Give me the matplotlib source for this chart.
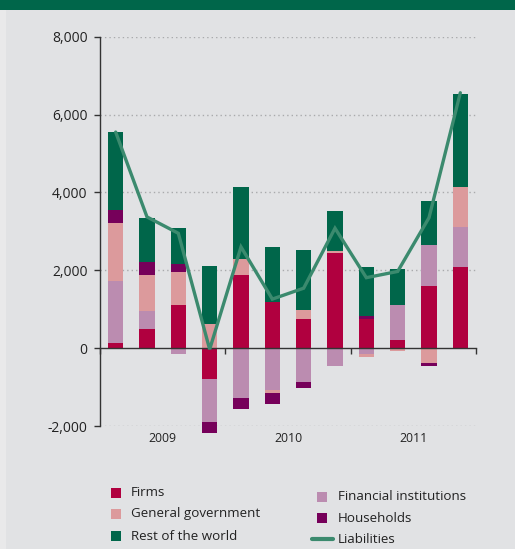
import numpy as np
import matplotlib
matplotlib.use("Agg")
import matplotlib.pyplot as plt
from matplotlib.patches import Rectangle
from matplotlib.lines import Line2D
from matplotlib.ticker import FuncFormatter

plt.rcParams['font.family'] = ['Open Sans', 'DejaVu Sans']

# Quarterly contributions by sector (2009 Q1 - 2011 Q4)
quarters = ['2009 Q1', '2009 Q2', '2009 Q3', '2009 Q4',
            '2010 Q1', '2010 Q2', '2010 Q3', '2010 Q4',
            '2011 Q1', '2011 Q2', '2011 Q3', '2011 Q4']
years = ['2009', '2010', '2011']

firms = [120, 490, 1100, -780, 1880, 1180, 740, 2450, 740, 200, 1590, 2090]
financial = [1600, 460, -160, -1110, -1270, -1070, -860, -450, -160, 900, 1060, 1030]
government = [1500, 930, 850, 610, 410, -80, 230, 50, -80, -80, -370, 1010]
households = [330, 335, 210, -300, -300, -280, -155, 0, 80, 0, -80, 0]
rest_world = [1990, 1140, 930, 1500, 1840, 1420, 1550, 1010, 1270, 930, 1140, 2400]
liabilities = [5550, 3370, 2950, -30, 2600, 1260, 1540, 3080, 1810, 1970, 3350, 6560]

series = [
    ('Firms', firms, '#b0003f'),
    ('Financial institutions', financial, '#bb8cb0'),
    ('General government', government, '#dc9a9c'),
    ('Households', households, '#76005a'),
    ('Rest of the world', rest_world, '#00664a'),
]
line_color = '#3b8a6e'
bg = '#e1e2e4'

W, H = 515, 549
fig = plt.figure(figsize=(W / 100, H / 100), dpi=100, facecolor=bg)

# top banner and left margin strip
fig.add_artist(Rectangle((0, 0), 6 / W, 1, transform=fig.transFigure,
                         facecolor='#e9e9ea', edgecolor='none', zorder=0))
fig.add_artist(Rectangle((0, 1 - 9.5 / H), 1, 9.5 / H, transform=fig.transFigure,
                         facecolor='#00664a', edgecolor='none', zorder=1))

ax_left, ax_right = 100 / W, 476 / W
ax_top, ax_bot = 1 - 36.7 / H, 1 - 426.0 / H
ax = fig.add_axes([ax_left, ax_bot, ax_right - ax_left, ax_top - ax_bot])
ax.set_facecolor(bg)

x = np.arange(len(quarters)) + 0.5
width = 0.48
pos_base = np.zeros(len(quarters))
neg_base = np.zeros(len(quarters))
for name, vals, color in series:
    v = np.array(vals, dtype=float)
    pos = np.where(v > 0, v, 0)
    neg = np.where(v < 0, v, 0)
    ax.bar(x, pos, width, bottom=pos_base, color=color, zorder=3, linewidth=0,
           clip_on=False)
    ax.bar(x, neg, width, bottom=neg_base, color=color, zorder=3, linewidth=0,
           clip_on=False)
    pos_base += pos
    neg_base += neg

ax.plot(x, liabilities, color=line_color, lw=2.4, zorder=5,
        solid_joinstyle='miter', solid_capstyle='round', clip_on=False)

ax.set_xlim(0, 12)
ax.set_ylim(-2000, 8000)

# dotted grid
for g in [-2000, 2000, 4000, 6000, 8000]:
    ax.axhline(g, color='#a9aaac', lw=1.0, ls=(0, (1, 2.2)), zorder=1)

ax.spines['top'].set_visible(False)
ax.spines['right'].set_visible(False)
ax.spines['left'].set_color('#333333')
ax.spines['left'].set_linewidth(1.0)
ax.spines['bottom'].set_position(('data', 0))
ax.spines['bottom'].set_color('#333333')
ax.spines['bottom'].set_linewidth(1.0)
ax.spines['bottom'].set_zorder(4)

ax.set_yticks([-2000, 0, 2000, 4000, 6000, 8000])
ax.yaxis.set_major_formatter(FuncFormatter(lambda v, p: f'{int(v):,}'))
ax.tick_params(axis='y', direction='out', length=4, width=1.0, color='#333333',
               labelsize=10, labelcolor='#222222', pad=5)
ax.set_xticks([0, 4, 8, 12])
ax.set_xticklabels([])
ax.tick_params(axis='x', direction='out', length=4, width=1.0, color='#333333')

for i, yr in enumerate(years):
    ax.text(2 + 4 * i, -0.033, yr, transform=ax.get_xaxis_transform(),
            ha='center', va='center', fontsize=8.8, color='#222222')

# legend
sq = 10
def fy(py):
    return 1 - py / H

left_items = [('Firms', '#b0003f', 492.7), ('General government', '#dc9a9c', 514.0),
              ('Rest of the world', '#00664a', 536.0)]
right_items = [('Financial institutions', '#bb8cb0', 496.7), ('Households', '#76005a', 518.0)]
for label, color, py in left_items:
    fig.add_artist(Rectangle((110.5 / W, fy(py + sq / 2)), sq / W, sq / H,
                             transform=fig.transFigure, facecolor=color, edgecolor='none'))
    fig.text(131 / W, fy(py), label, ha='left', va='center', fontsize=9.6, color='#222222')
for label, color, py in right_items:
    fig.add_artist(Rectangle((317.3 / W, fy(py + sq / 2)), sq / W, sq / H,
                             transform=fig.transFigure, facecolor=color, edgecolor='none'))
    fig.text(338 / W, fy(py), label, ha='left', va='center', fontsize=9.6, color='#222222')
fig.add_artist(Line2D([312 / W, 333 / W], [fy(539.3), fy(539.3)], transform=fig.transFigure,
                      color=line_color, lw=3, solid_capstyle='round'))
fig.text(338 / W, fy(539.3), 'Liabilities', ha='left', va='center', fontsize=9.6, color='#222222')

fig.savefig('out.png', dpi=100, facecolor=bg)
